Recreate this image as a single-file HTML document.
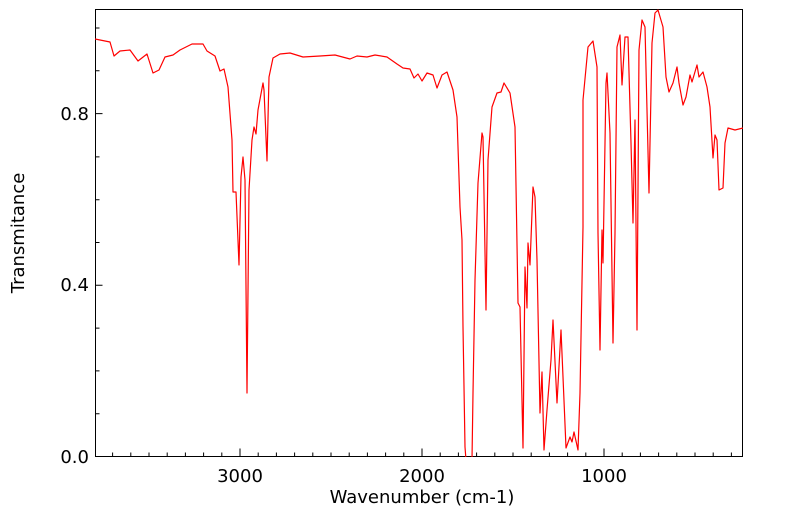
<!DOCTYPE html>
<html><head><meta charset="utf-8"><style>
html,body{margin:0;padding:0;background:#fff;}
svg{display:block;font-family:"DejaVu Sans","Liberation Sans",sans-serif;}
</style></head><body>
<svg width="799" height="516" viewBox="0 0 799 516" xmlns="http://www.w3.org/2000/svg">
<rect x="0" y="0" width="799" height="516" fill="#fff"/>
<g fill="none" stroke="#000" stroke-width="1">
<rect x="95.5" y="9.5" width="647" height="447"/>
<path d="M95.5 456.5h7M95.5 413.7h4M95.5 370.9h4M95.5 328.1h4M95.5 285.3h7M95.5 242.5h4M95.5 199.7h4M95.5 156.9h4M95.5 113.6h7M95.5 70.8h4M95.5 28h4"/>
<path d="M112.6 456.5v-4M130.8 456.5v-4M149 456.5v-4M167.2 456.5v-4M185.4 456.5v-4M203.6 456.5v-4M221.8 456.5v-4M240 456.5v-8M258.2 456.5v-4M276.4 456.5v-4M294.6 456.5v-4M312.8 456.5v-4M331 456.5v-4M349.2 456.5v-4M367.4 456.5v-4M385.6 456.5v-4M403.8 456.5v-4M422 456.5v-8M440.2 456.5v-4M458.4 456.5v-4M476.6 456.5v-4M494.8 456.5v-4M513 456.5v-4M531.2 456.5v-4M549.4 456.5v-4M567.6 456.5v-4M585.8 456.5v-4M604 456.5v-8M622.2 456.5v-4M640.4 456.5v-4M658.6 456.5v-4M676.8 456.5v-4M695 456.5v-4M713.2 456.5v-4M731.4 456.5v-4"/>
</g>
<g font-size="18" fill="#000">
<text x="89" y="463" text-anchor="end">0.0</text>
<text x="89" y="291" text-anchor="end">0.4</text>
<text x="89" y="120" text-anchor="end">0.8</text>
<text x="240" y="482" text-anchor="middle">3000</text>
<text x="422" y="482" text-anchor="middle">2000</text>
<text x="604" y="482" text-anchor="middle">1000</text>
<text x="422" y="503" text-anchor="middle">Wavenumber (cm-1)</text>
<text transform="translate(24,233) rotate(-90)" text-anchor="middle">Transmitance</text>
</g>
<svg x="95" y="9" width="648" height="448" viewBox="95 9 648 448" overflow="hidden">
<polyline fill="none" stroke="#ff0000" stroke-width="1.2" stroke-linejoin="round" points="
95,39 110,42 114,56 120,51 130,50 138,61 147,54 153,73 159,70 165,57 173,55 180,50 192,44 203,44 207,51 215,56 220,71 224,69 228,87 232,140 233,192 236,192 239,265 241,177 243,157 245,180 247,393 249,190 252,140 254,127 256,134 258,110 263,83 264,90 267,161 269,77 273,58 280,54 290,53 303,57 320,56 335,55 350,59 357,56 367,57 375,55 387,57 397,64 403,68 410,69 414,78 418,74 422,81 427,73 433,75 437,88 442,75 447,72 453,90 457,117 460,207 462,240 463,327 465,447 466,460 472,460 473,393 475,280 478,183 482,133 483,137 486,310 488,160 492,107 497,93 501,92 504,83 510,93 515,127 518,303 520,307 523,448 525,267 527,308 528,243 530,265 533,187 535,197 537,260 540,413 542,372 544,450 547,410 551,360 553,320 557,403 561,330 563,377 566,448 570,437 572,442 574,432 578,450 580,393 583,227 583,100 588,47 593,41 597,67 598,233 600,350 602,230 603,263 606,83 607,73 610,133 613,343 615,233 617,47 620,35 622,85 625,37 628,37 631,143 633,223 635,120 637,330 639,50 642,20 645,27 649,193 652,43 655,13 658,10 663,27 666,77 669,92 673,83 677,67 679,83 683,105 686,97 690,75 692,82 697,65 699,77 703,72 707,87 710,107 713,158 715,135 717,140 719,190 723,188 725,143 728,128 735,130 743,128"/>
</svg>
</svg>
</body></html>
